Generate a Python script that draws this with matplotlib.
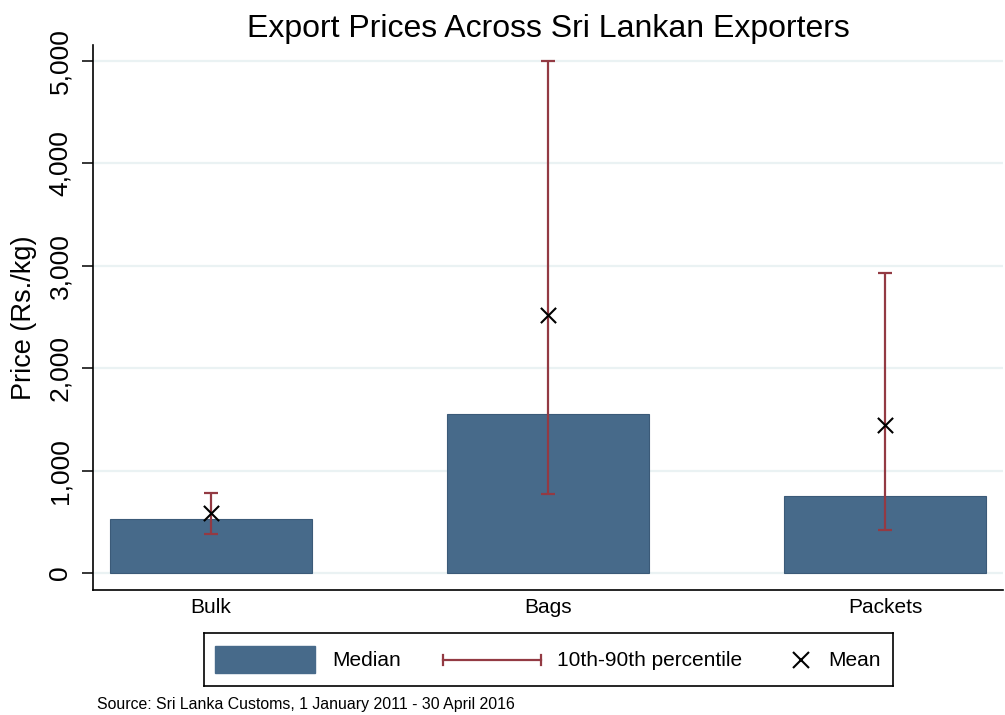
import matplotlib
matplotlib.use("Agg")
import matplotlib.pyplot as plt
from matplotlib.lines import Line2D
from matplotlib.patches import Rectangle
from matplotlib.ticker import FuncFormatter

categories = ["Bulk", "Bags", "Packets"]
median = [525, 1550, 752]
p10 = [380, 770, 420]
p90 = [785, 5000, 2930]
mean = [585, 2515, 1445]

plt.rcParams['font.family'] = ['Liberation Sans', 'DejaVu Sans']

W, H = 1005, 715
fig = plt.figure(figsize=(W / 100, H / 100), dpi=100)


def px_rect(x0, y0, x1, y1):
    return [x0 / W, 1 - y1 / H, (x1 - x0) / W, (y1 - y0) / H]


ax = fig.add_axes(px_rect(93, 45, 1003, 590))

bar_color = "#476a8a"
err_color = "#933a43"
x = list(range(len(categories)))

ax.bar(x, median, width=0.6, color=bar_color, edgecolor="#3b5a78", linewidth=0.8, zorder=2)
yerr = [[m - lo for m, lo in zip(median, p10)], [hi - m for m, hi in zip(median, p90)]]
ax.errorbar(x, median, yerr=yerr, fmt="none", ecolor=err_color, elinewidth=1.6,
            capsize=5, capthick=1.6, zorder=3)
ax.scatter(x, mean, marker="x", s=120, color="black", linewidths=1.5, zorder=4)

ax.set_xlim(-0.35, 2.35)
ax.set_ylim(-166, 5156)
ax.set_yticks([0, 1000, 2000, 3000, 4000, 5000])
ax.yaxis.set_major_formatter(FuncFormatter(lambda v, p: f"{int(v):,}"))
ax.set_xticks(x)
ax.set_xticklabels(categories, fontsize=15)
for lbl in ax.get_yticklabels():
    lbl.set_rotation(90)
    lbl.set_va("center")
    lbl.set_fontsize(19)
ax.tick_params(axis="y", length=8, width=1.1, pad=7)
ax.tick_params(axis="x", length=0, pad=6)
ax.grid(axis="y", color="#eaf2f3", linewidth=1.6, zorder=0)
ax.set_axisbelow(True)
for s in ["top", "right"]:
    ax.spines[s].set_visible(False)
for s in ["left", "bottom"]:
    ax.spines[s].set_linewidth(1.2)
ax.set_ylabel("Price (Rs./kg)", fontsize=19.5, labelpad=8)
ax.set_title("Export Prices Across Sri Lankan Exporters", fontsize=23, pad=6)

# Legend drawn manually in a pixel-coordinate axes
lx0, ly0, lx1, ly1 = 204, 633, 893, 686
lax = fig.add_axes(px_rect(lx0, ly0, lx1, ly1))
lax.set_xlim(0, lx1 - lx0)
lax.set_ylim(ly1 - ly0, 0)
lax.set_xticks([])
lax.set_yticks([])
for s in lax.spines.values():
    s.set_linewidth(1.2)
    s.set_color("black")
cy = 27
lax.add_patch(Rectangle((11, 13), 100, 27, facecolor=bar_color, edgecolor=bar_color))
lax.text(128, cy, "Median", fontsize=15, va="center", ha="left")
lax.plot([239, 337], [cy, cy], color=err_color, lw=1.6)
lax.plot([239, 239], [cy - 5, cy + 5], color=err_color, lw=1.6)
lax.plot([337, 337], [cy - 5, cy + 5], color=err_color, lw=1.6)
lax.text(353, cy, "10th-90th percentile", fontsize=15, va="center", ha="left")
lax.plot([597], [cy], marker="x", markersize=11, markeredgewidth=1.5, color="black", lw=0)
lax.text(624, cy, "Mean", fontsize=15, va="center", ha="left")

fig.text(97 / W, 1 - 705 / H, "Source: Sri Lanka Customs, 1 January 2011 - 30 April 2016",
         fontsize=11.4, va="center", ha="left")

fig.savefig("out.png", dpi=100)
